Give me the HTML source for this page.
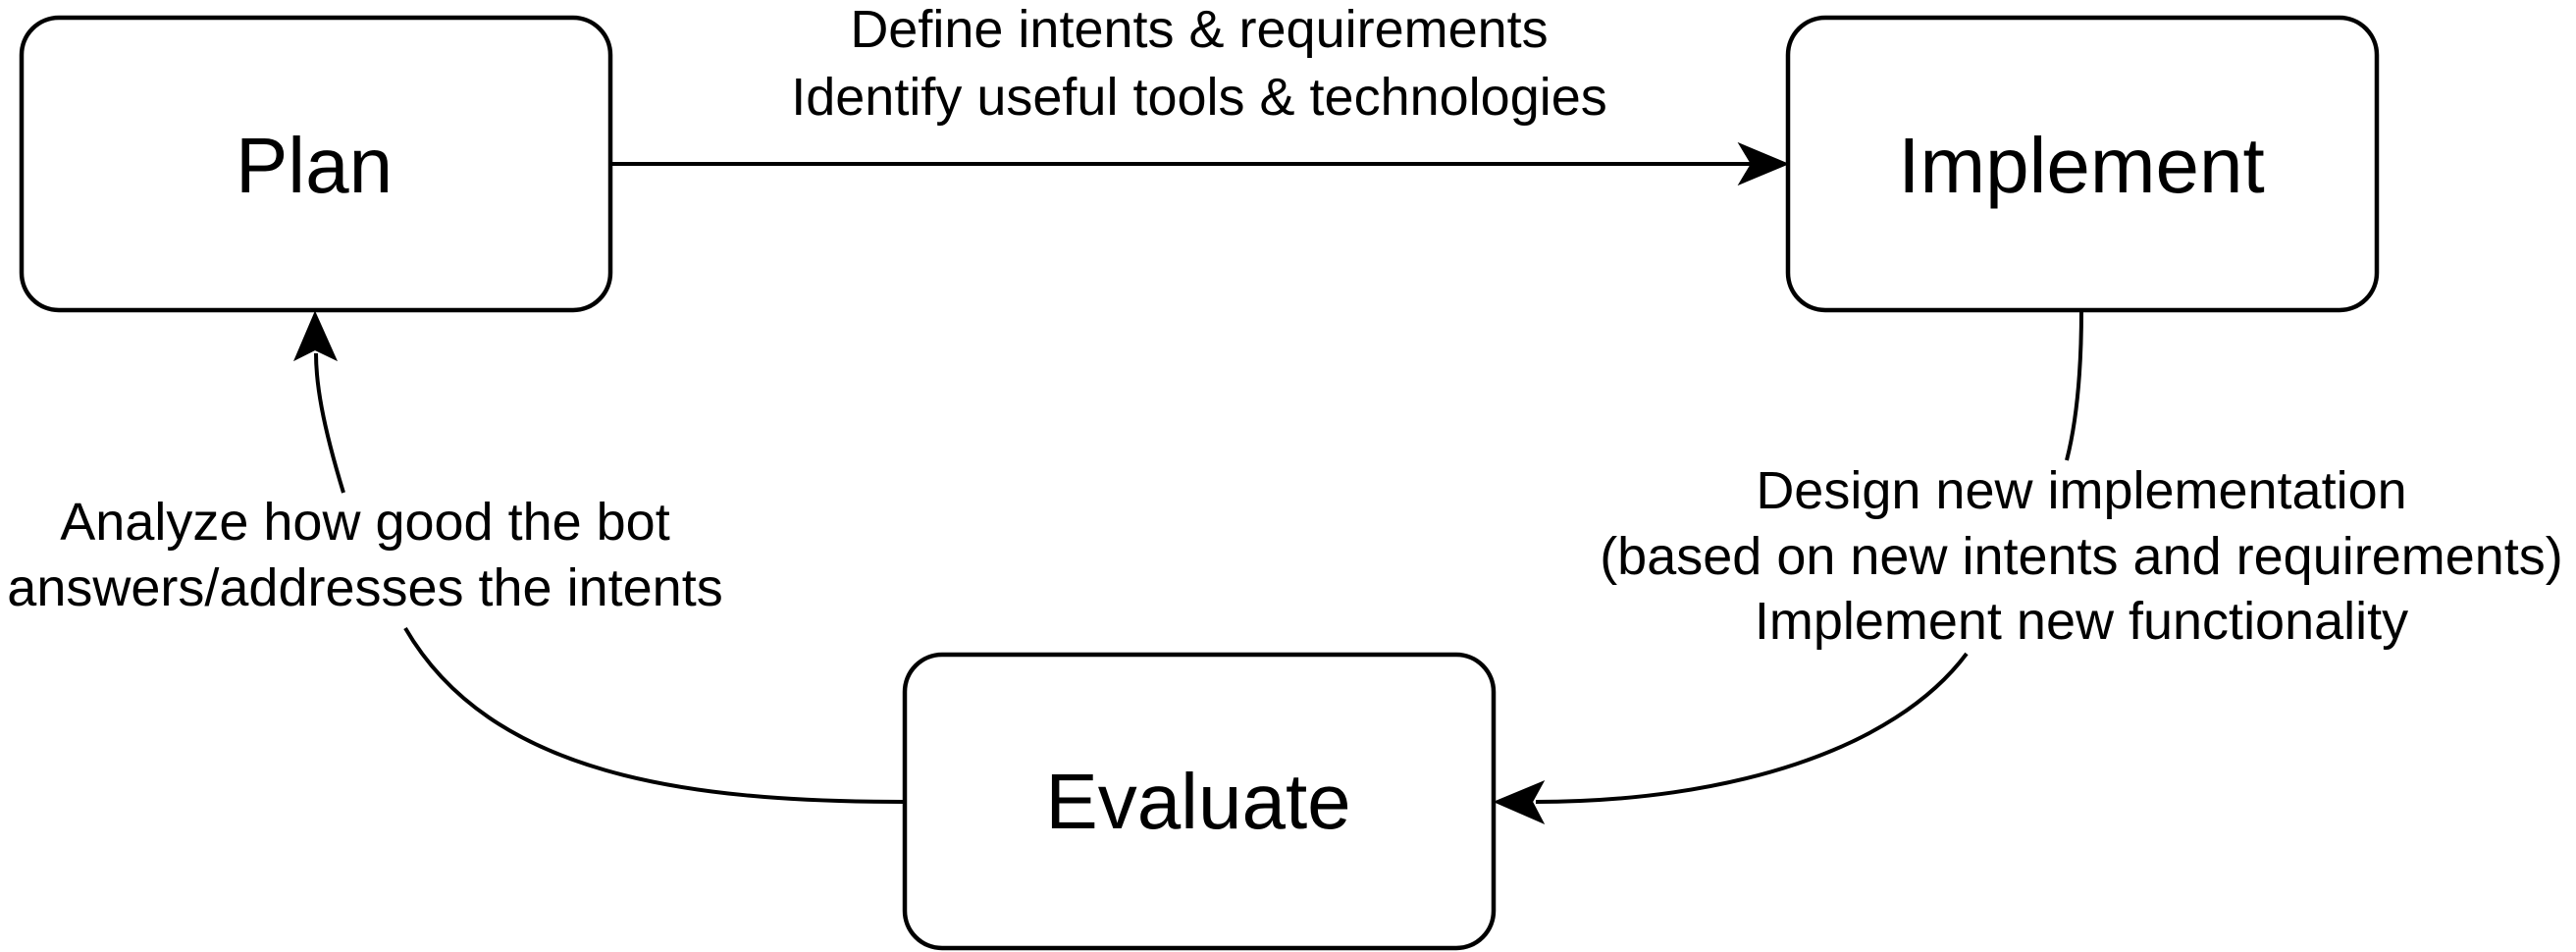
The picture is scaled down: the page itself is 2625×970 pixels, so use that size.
<!DOCTYPE html>
<html><head><meta charset="utf-8"><style>
html,body{margin:0;padding:0;background:#fff;width:2625px;height:970px;overflow:hidden}
svg{display:block}
text{font-family:"Liberation Sans",Arial,sans-serif;fill:#000}
</style></head><body>
<svg width="2625" height="970" viewBox="0 0 2625 970" xmlns="http://www.w3.org/2000/svg">
<g fill="#fff" stroke="#000" stroke-width="4.5">
<rect x="22" y="18" width="600" height="298" rx="38"/>
<rect x="1822" y="18" width="600" height="298" rx="38"/>
<rect x="922" y="667" width="600" height="299" rx="38"/>
</g>
<g font-size="80" text-anchor="middle">
<text x="320" y="196">Plan</text>
<text x="2121" y="196">Implement</text>
<text x="1221" y="844">Evaluate</text>
</g>
<g fill="none" stroke="#000" stroke-width="4">
<line x1="622" y1="167" x2="1795" y2="167"/>
<path d="M922 817 C 700 817, 500 790, 413 640"/>
<path d="M350 502 C 328 430, 322 390, 322 360"/>
<path d="M2121 316 C 2121 380, 2116 430, 2106 469"/>
<path d="M2004 666 C 1930 765, 1760 817, 1565 817"/>
</g>
<g fill="#000" stroke="#000" stroke-width="2">
<polygon points="1821,167 1773,147 1785,167 1773,187"/>
<polygon points="321,319 301,366 321,356 342,366"/>
<polygon points="1524,817 1572,797 1561,817 1572,838"/>
</g>
<g font-size="54" text-anchor="middle">
<text x="1222" y="48">Define intents &amp; requirements</text>
<text x="1222" y="117">Identify useful tools &amp; technologies</text>
<text x="372" y="550">Analyze how good the bot</text>
<text x="372" y="617">answers/addresses the intents</text>
<text x="2121" y="518">Design new implementation</text>
<text x="2121" y="585">(based on new intents and requirements)</text>
<text x="2121" y="651">Implement new functionality</text>
</g>
</svg>
</body></html>
